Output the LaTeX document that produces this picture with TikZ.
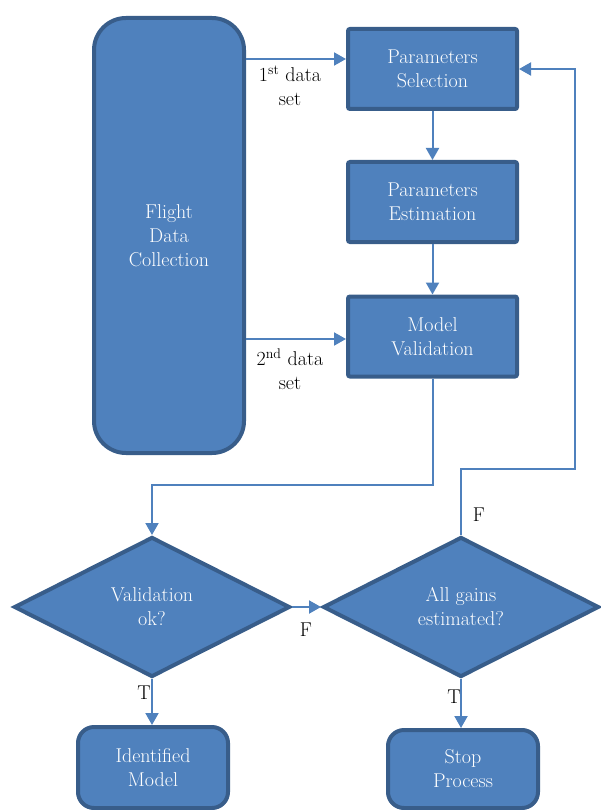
\documentclass[tikz,border=0pt]{standalone}
\usetikzlibrary{shapes.geometric,arrows.meta}
\definecolor{boxfill}{HTML}{4F81BD}
\definecolor{boxline}{HTML}{385D8A}
\tikzset{
  base/.style={draw=boxline, fill=boxfill, line width=4pt, text=white, align=center, inner sep=0pt,
    font=\fontsize{20}{24}\selectfont},
  sqbox/.style={base, rectangle, rounded corners=2pt, minimum width=169pt, minimum height=80pt},
  rbox/.style={base, rectangle, rounded corners=16pt, minimum width=150pt},
  decision/.style={base, diamond, line join=miter, minimum width=276pt, minimum height=140pt},
  arr/.style={draw=boxfill, line width=2pt, -{Triangle[length=12pt,width=13pt]}},
  lbl/.style={text=black, align=center, inner sep=0pt, font=\fontsize{20}{24}\selectfont}
}
\begin{document}
\begin{tikzpicture}[x=1pt,y=-1pt]
\useasboundingbox (0,0) rectangle (601,810);
\node[rbox, rounded corners=32pt, minimum height=435pt] (FDC) at (169,235.5) {Flight\\Data\\Collection};
\node[sqbox] (PS) at (432.5,69) {Parameters\\Selection};
\node[sqbox] (PE) at (432.5,202) {Parameters\\Estimation};
\node[sqbox] (MV) at (432.5,336.5) {Model\\Validation};
\node[decision] (VD) at (152,607) {Validation\\ok?};
\node[decision] (AG) at (461,607) {All gains\\estimated?};
\node[rbox, minimum height=81pt] (IM) at (153,767.5) {Identified\\Model};
\node[rbox, minimum height=78pt] (SP) at (463,769) {Stop\\Process};

\coordinate (a1) at (246,59);
\coordinate (a2) at (246,339);
\coordinate (c1) at (433,485);
\coordinate (c2) at (575,469);

\draw[arr] (FDC.east |- a1) -- (PS.west |- a1);
\draw[arr] (FDC.east |- a2) -- (MV.west |- a2);
\draw[arr] (PS.south) -- (PE.north);
\draw[arr] (PE.south) -- (MV.north);
\draw[arr] (MV.south) -- (MV.south |- c1) -| (VD.north);
\draw[arr] (VD.east) -- (AG.west);
\draw[arr] (AG.north) |- (c2) |- (PS.east);
\draw[arr] (VD.south) -- (VD.south |- IM.north);
\draw[arr] (AG.south) -- (AG.south |- SP.north);

\node[lbl] (l1) at (290,86) {1\textsuperscript{st} data\\set};
\node[lbl] (l2) at (290,369) {2\textsuperscript{nd} data\\set};
\node[lbl] (lF1) at (306,630) {F};
\node[lbl] (lF2) at (479,515) {F};
\node[lbl] (lT1) at (144,693) {T};
\node[lbl] (lT2) at (454,697) {T};
\end{tikzpicture}
\end{document}
